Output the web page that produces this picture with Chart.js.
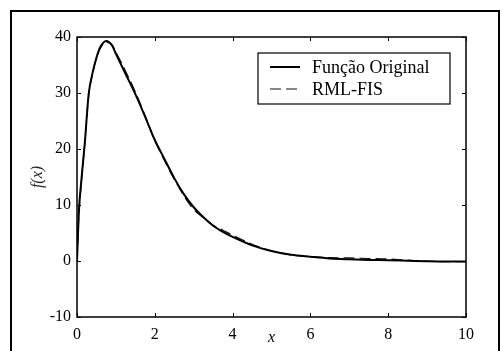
<!DOCTYPE html>
<html>
<head>
<meta charset="utf-8">
<script src="https://cdn.jsdelivr.net/npm/chart.js@4.4.1/dist/chart.umd.min.js"></script>
<style>
  html, body { margin: 0; padding: 0; background: #fff; overflow: hidden; }
  #wrap { position: relative; width: 503px; height: 351px; }
  #frame { position: absolute; left: 10px; top: 10px; width: 486px; height: 400px; border: 2px solid #000; }
  canvas { position: absolute; left: 0; top: 0; }
</style>
</head>
<body>
<div id="wrap">
  <div id="frame"></div>
  <canvas id="chart" width="503" height="351"></canvas>
</div>
<script>
// values
const xValues = [0, 0.05, 0.1, 0.2, 0.3, 0.4, 0.5, 0.6, 0.75, 0.9, 1.0, 1.25, 1.5, 1.75, 2.0, 2.25, 2.5, 2.75, 3.0, 3.25, 3.5, 3.75, 4.0, 4.5, 5.0, 5.5, 6.0, 6.5, 7.0, 7.5, 8.0, 8.5, 9.0, 9.5, 10];
const originalValues = [0, 9.0, 13.5, 21.0, 29.8, 33.6, 36.3, 38.2, 39.3, 38.5, 37.0, 33.4, 29.8, 25.8, 21.6, 18.2, 14.8, 11.9, 9.6, 7.8, 6.3, 5.2, 4.3, 2.8, 1.8, 1.1, 0.75, 0.45, 0.3, 0.2, 0.15, 0.05, -0.05, -0.1, -0.1];
const rmlValues = [0, 8.5, 13.0, 21.0, 29.5, 33.4, 36.2, 38.0, 39.1, 38.6, 37.3, 33.9, 30.2, 26.0, 21.5, 17.9, 14.6, 11.6, 9.2, 7.7, 6.4, 5.5, 4.6, 3.0, 1.8, 1.1, 0.8, 0.6, 0.55, 0.45, 0.35, 0.15, -0.05, -0.1, -0.1];
const seriesLabels = ['Função Original', 'RML-FIS'];
const xTicks = [0, 2, 4, 6, 8, 10];
const yTicks = [-10, 0, 10, 20, 30, 40];

const serif = 'Liberation Serif, Times New Roman, serif';

function toPoints(ys) {
    return xValues.map((x, i) => ({ x: x, y: ys[i] }));
}

// inward ticks on all four sides + box around the plot
const framePlugin = {
    id: 'frame',
    afterDatasetsDraw(chart) {
        const { ctx, chartArea: a, scales: { x, y } } = chart;
        ctx.save();
        ctx.strokeStyle = '#000';
        ctx.lineWidth = 1.5;
        ctx.strokeRect(a.left, a.top, a.right - a.left, a.bottom - a.top);
        ctx.lineWidth = 1;
        ctx.beginPath();
        xTicks.forEach(v => {
            const px = Math.round(x.getPixelForValue(v)) + 0.5;
            ctx.moveTo(px, a.bottom); ctx.lineTo(px, a.bottom - 4);
            ctx.moveTo(px, a.top); ctx.lineTo(px, a.top + 4);
        });
        yTicks.forEach(v => {
            const py = Math.round(y.getPixelForValue(v)) + 0.5;
            ctx.moveTo(a.left, py); ctx.lineTo(a.left + 4, py);
            ctx.moveTo(a.right, py); ctx.lineTo(a.right - 4, py);
        });
        ctx.stroke();
        ctx.restore();
    }
};

// boxed legend in the upper right of the plot
const legendPlugin = {
    id: 'boxLegend',
    afterDraw(chart) {
        const { ctx } = chart;
        const box = { left: 258, top: 53, width: 192, height: 51 };
        ctx.save();
        ctx.fillStyle = '#fff';
        ctx.fillRect(box.left, box.top, box.width, box.height);
        ctx.strokeStyle = '#000';
        ctx.lineWidth = 1.2;
        ctx.strokeRect(box.left, box.top, box.width, box.height);
        chart.data.datasets.forEach((ds, i) => {
            const rowY = box.top + 14 + i * 22;
            ctx.strokeStyle = ds.borderColor;
            ctx.lineWidth = ds.borderWidth;
            ctx.setLineDash(ds.borderDash || []);
            ctx.beginPath();
            ctx.moveTo(270, rowY);
            ctx.lineTo(300, rowY);
            ctx.stroke();
            ctx.setLineDash([]);
            ctx.fillStyle = '#000';
            ctx.font = '18px ' + serif;
            ctx.textBaseline = 'middle';
            ctx.fillText(ds.label, 312, rowY + 1);
        });
        ctx.restore();
    }
};

new Chart(document.getElementById('chart'), {
    type: 'line',
    data: {
        datasets: [{
            label: seriesLabels[0],
            data: toPoints(originalValues),
            borderColor: '#000',
            borderWidth: 2,
            pointRadius: 0,
            cubicInterpolationMode: 'monotone',
            fill: false
        }, {
            label: seriesLabels[1],
            data: toPoints(rmlValues),
            borderColor: '#111',
            borderWidth: 1.2,
            borderDash: [11, 5],
            pointRadius: 0,
            cubicInterpolationMode: 'monotone',
            fill: false
        }]
    },
    options: {
        responsive: false,
        animation: false,
        layout: { padding: { top: 37, right: 37, left: 28, bottom: 0 } },
        plugins: { legend: { display: false }, tooltip: { enabled: false } },
        scales: {
            x: {
                type: 'linear',
                min: 0,
                max: 10,
                afterFit: s => { s.height = 34; },
                afterBuildTicks: s => { s.ticks = xTicks.map(v => ({ value: v })); },
                grid: { display: false, drawTicks: false },
                border: { display: false },
                ticks: { color: '#000', padding: 8, maxRotation: 0, font: { family: serif, size: 16 } },
                title: {
                    display: true,
                    text: 'x',
                    color: '#000',
                    padding: { top: 0, bottom: 4 },
                    font: { family: serif, size: 16, style: 'italic' }
                }
            },
            y: {
                min: -10,
                max: 40,
                afterFit: s => { s.width = 49; },
                afterBuildTicks: s => { s.ticks = yTicks.map(v => ({ value: v })); },
                grid: { display: false, drawTicks: false },
                border: { display: false },
                ticks: { color: '#000', padding: 6, font: { family: serif, size: 16 } },
                title: {
                    display: true,
                    text: 'f(x)',
                    color: '#222',
                    padding: { top: 0, bottom: 0 },
                    font: { family: serif, size: 16, style: 'italic' }
                }
            }
        }
    },
    plugins: [framePlugin, legendPlugin]
});
</script>
</body>
</html>
